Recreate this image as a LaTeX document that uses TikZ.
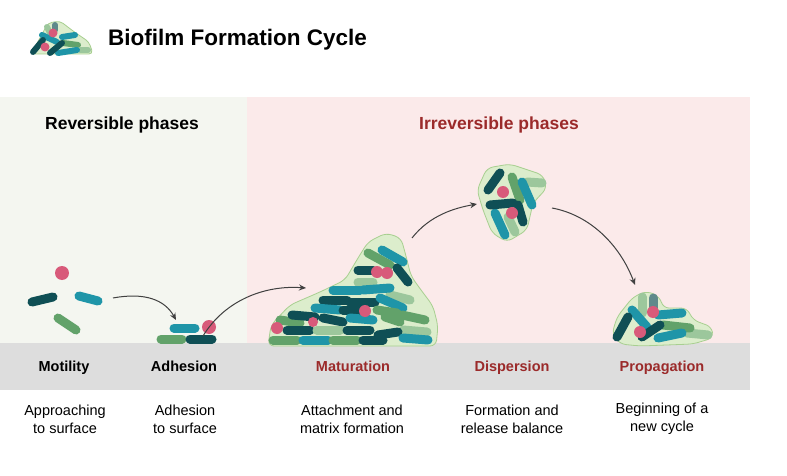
\documentclass[tikz,border=0pt]{standalone}
\usepackage{fontspec}
\setmainfont{Liberation Sans}
\usetikzlibrary{arrows.meta}
\definecolor{cDark}{HTML}{0F4F55}
\definecolor{cTeal}{HTML}{1F95A8}
\definecolor{cGreen}{HTML}{62A26A}
\definecolor{cLight}{HTML}{9CC79C}
\definecolor{cGrey}{HTML}{5F8A8B}
\definecolor{cPink}{HTML}{D85A7A}
\definecolor{cMatrix}{HTML}{DCEDCC}
\definecolor{cEdge}{HTML}{A8CF90}
\definecolor{cRed}{HTML}{9B2A2A}
\definecolor{cLeft}{HTML}{F4F6F0}
\definecolor{cRight}{HTML}{FBEAEA}
\definecolor{cBand}{HTML}{DDDDDD}
\tikzset{
  rod/.style={line width=9pt, line cap=round},
  smallrod/.style={line width=6pt, line cap=round},
  matrix blob/.style={fill=cMatrix, draw=cEdge, line width=0.8pt, rounded corners=6pt},
  flow/.style={draw=black!75, line width=1pt, -{Stealth[length=7pt,width=6pt]}},
  phase/.style={anchor=base, font=\bfseries\fontsize{14.5}{17}\selectfont},
  desc/.style={align=center, font=\fontsize{14.5}{18}\selectfont},
  head/.style={anchor=base, font=\bfseries\fontsize{17.5}{20}\selectfont}
}
\newcommand{\cell}[2]{\fill[cPink] (#1) circle (#2pt);}
\begin{document}
\begin{tikzpicture}[x=1pt,y=-1pt]
  \useasboundingbox (0,0) rectangle (787,476);
  \fill[white] (0,0) rectangle (787,476);
  % panels
  \fill[cLeft] (0,97) rectangle (247,343);
  \fill[cRight] (247,97) rectangle (750,343);
  \fill[cBand] (0,343) rectangle (750,390);

  % title icon
  \draw[matrix blob, rounded corners=4pt] (31,54) -- (40,38) -- (48,23) -- (60,21) -- (73,31) -- (89,42) -- (93,54) -- cycle;
  \foreach \a/\b/\c/\d/\col in {47/27/50/33/cLight, 55/25/55/30/cGrey, 42/35/57/42/cTeal, 62/37/75/35/cTeal,
      63/43/78/45/cGreen, 80/50/88/50/cLight, 58/53/77/50/cTeal, 33/52/43/40/cDark, 50/53/62/43/cDark}
    \draw[smallrod, \col] (\a,\b) -- (\c,\d);
  \cell{53,33}{4.5}
  \cell{45,47}{4.5}
  \node[anchor=west, inner sep=0pt, font=\bfseries\fontsize{22.5}{26}\selectfont] (title) at (108,40) {Biofilm Formation Cycle};

  % phase headings
  \node[head] (rev) at (122,130) {Reversible phases};
  \node[head, cRed] (irr) at (499,130) {Irreversible phases};

  % motility
  \foreach \a/\b/\c/\d/\col in {32/302/53/297/cDark, 79/296/98/301/cTeal, 58/318/76/330/cGreen}
    \draw[rod, \col] (\a,\b) -- (\c,\d);
  \cell{62,273}{7}

  % adhesion
  \foreach \a/\b/\c/\d/\col in {174/328/195/328/cTeal, 161/339/182/339/cGreen, 190/339/212/339/cDark}
    \draw[rod, \col] (\a,\b) -- (\c,\d);
  \cell{209,327}{7}

  % maturation
  \draw[matrix blob] (268,346) -- (271,325) -- (290,305) -- (320,292) -- (345,280) -- (358,258) -- (368,242)
    -- (386,233) -- (401,238) -- (406,256) -- (411,276) -- (421,290) -- (433,306) -- (438,326) -- (436,346) -- cycle;
  \foreach \a/\b/\c/\d/\col in {
      390/295/410/300/cLight, 358/282/373/282/cLight, 368/253/390/265/cGreen, 382/250/403/262/cTeal,
      358/270/373/270/cDark, 397/268/408/282/cDark,
      333/290/360/290/cTeal, 363/290/390/288/cTeal,
      323/300/347/300/cDark, 350/302/375/302/cDark, 380/298/403/308/cTeal,
      315/308/340/310/cTeal, 343/310/360/310/cDark, 377/310/397/313/cGreen, 402/315/425/320/cGreen,
      280/320/300/323/cGreen, 292/315/315/317/cDark, 323/318/343/322/cDark, 350/318/373/320/cTeal, 385/317/400/322/cGreen,
      287/330/310/330/cDark, 317/330/340/330/cLight, 347/330/370/330/cDark, 403/330/427/332/cLight, 378/335/398/332/cDark,
      273/340/297/340/cGreen, 303/340/328/340/cTeal, 333/340/357/340/cGreen, 363/340/383/340/cDark, 403/338/428/340/cTeal}
    \draw[rod, \col] (\a,\b) -- (\c,\d);
  \cell{377,272}{6}
  \cell{387,273}{6}
  \cell{365,311}{6}
  \cell{277,328}{6}
  \cell{313,322}{5}

  % dispersion
  \draw[matrix blob] (477,190) -- (487,168) -- (510,164) -- (543,175) -- (547,188) -- (533,203) -- (527,230)
    -- (507,242) -- (492,233) -- (483,210) -- cycle;
  \foreach \a/\b/\c/\d/\col in {
      527/182/542/183/cLight, 512/177/520/200/cGreen, 508/217/515/232/cLight, 522/182/532/205/cTeal,
      488/190/500/173/cDark, 495/213/505/235/cTeal, 490/205/513/203/cDark, 518/205/523/222/cDark}
    \draw[rod, \col] (\a,\b) -- (\c,\d);
  \cell{503,192}{6}
  \cell{512,213}{6}

  % propagation
  \draw[matrix blob] (612,334) -- (617,317) -- (633,297) -- (647,291) -- (660,297) -- (663,308) -- (687,308)
    -- (693,320) -- (712,327) -- (713,338) -- (693,344) -- (640,346) -- (620,344) -- cycle;
  \foreach \a/\b/\c/\d/\col in {
      642/297/642/313/cLight, 653/298/653/310/cGrey, 687/333/708/335/cLight, 632/310/647/327/cTeal,
      658/315/682/313/cTeal, 663/325/690/328/cGreen, 628/317/617/337/cDark, 642/337/660/325/cDark, 658/338/682/333/cTeal}
    \draw[rod, \col] (\a,\b) -- (\c,\d);
  \cell{653,312}{6}
  \cell{640,332}{6}

  % connectors
  \coordinate (m1) at (113,298);
  \coordinate (a0) at (176,320);
  \coordinate (a1) at (203,336);
  \coordinate (t0) at (306,288);
  \coordinate (t1) at (412,238);
  \coordinate (d0) at (477,204);
  \coordinate (d1) at (552,208);
  \coordinate (p0) at (635,285);
  \draw[flow] (m1) .. controls (145,292) and (165,300) .. (a0);
  \draw[flow] (a1) .. controls (225,300) and (265,285) .. (t0);
  \draw[flow] (t1) .. controls (430,215) and (455,208) .. (d0);
  \draw[flow] (d1) .. controls (590,215) and (620,245) .. (p0);

  % stage names
  \node[phase] (mot) at (64,371) {Motility};
  \node[phase] (adh) at (184,371) {Adhesion};
  \node[phase, cRed] (mat) at (353,371) {Maturation};
  \node[phase, cRed] (dis) at (512,371) {Dispersion};
  \node[phase, cRed] (pro) at (662,371) {Propagation};

  % descriptions
  \node[desc] (motd) at (65,419) {Approaching\\to surface};
  \node[desc] (adhd) at (185,419) {Adhesion\\to surface};
  \node[desc] (matd) at (352,419) {Attachment and\\matrix formation};
  \node[desc] (disd) at (512,419) {Formation and\\release balance};
  \node[desc] (prod) at (662,419) {Beginning of a\\new cycle};
\end{tikzpicture}
\end{document}
